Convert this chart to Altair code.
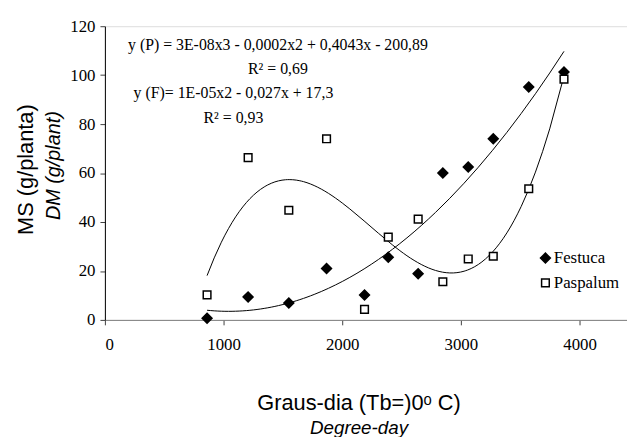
import altair as alt
import pandas as pd

degree_days = [861, 1207, 1550, 1868, 2188, 2388, 2640, 2848, 3062, 3273, 3572, 3869]
festuca = [0.7, 9.4, 6.9, 21.0, 10.2, 25.6, 18.9, 60.0, 62.5, 74.0, 95.2, 101.3]
paspalum = [10.2, 66.3, 44.8, 74.0, 4.3, 33.8, 41.2, 15.6, 24.9, 26.0, 53.6, 98.4]
species = ["Festuca", "Paspalum"]
x_ticks = [0, 1000, 2000, 3000, 4000]
y_ticks = [0, 20, 40, 60, 80, 100, 120]
equations = [
    "y (P) = 3E-08x3 - 0,0002x2 + 0,4043x - 200,89",
    "R\u00b2 = 0,69",
    "y (F)= 1E-05x2 - 0,027x + 17,3",
    "R\u00b2 = 0,93",
]

rows = []
for x, f, p in zip(degree_days, festuca, paspalum):
    rows.append({"x": x, "y": f, "sp": "Festuca"})
    rows.append({"x": x, "y": p, "sp": "Paspalum"})
df = pd.DataFrame(rows)

SERIF = "Liberation Serif"
SANS = "Liberation Sans"

xs = alt.Scale(domain=[0, 4400], nice=False, zero=False)
ys = alt.Scale(domain=[0, 120], nice=False)

base = alt.Chart(df)

legend = alt.Legend(
    title=None, orient="none", legendX=437, legendY=226, padding=0,
    labelFont=SERIF, labelFontSize=17, labelColor="black", labelOffset=0,
    rowPadding=7, symbolStrokeWidth=1.5,
)

points = base.mark_point(opacity=1, strokeWidth=1.5).encode(
    x=alt.X("x:Q", scale=xs, axis=alt.Axis(
        values=x_ticks, title=None, grid=False, domainColor="#808080",
        tickColor="#404040", tickSize=5, labelFont=SERIF, labelFontSize=17,
        labelColor="black", labelPadding=12, format="d")),
    y=alt.Y("y:Q", scale=ys, axis=alt.Axis(
        values=y_ticks, title=None, grid=False, domainColor="black",
        tickColor="#404040", tickSize=5, labelFont=SERIF, labelFontSize=17,
        labelColor="black", labelPadding=5)),
    shape=alt.Shape("sp:N", scale=alt.Scale(domain=species, range=["diamond", "square"]), legend=legend),
    fill=alt.Fill("sp:N", scale=alt.Scale(domain=species, range=["black", "white"]), legend=legend),
    stroke=alt.Stroke("sp:N", scale=alt.Scale(domain=species, range=["black", "black"]), legend=legend),
    size=alt.Size("sp:N", scale=alt.Scale(domain=species, range=[100, 60]), legend=legend),
)

trend_p = base.transform_filter(alt.datum.sp == "Paspalum").transform_regression(
    "x", "y", method="poly", order=3).mark_line(color="black", strokeWidth=1).encode(
    x=alt.X("x:Q", scale=xs), y=alt.Y("y:Q", scale=ys))
trend_f = base.transform_filter(alt.datum.sp == "Festuca").transform_regression(
    "x", "y", method="poly", order=2).mark_line(color="black", strokeWidth=1).encode(
    x=alt.X("x:Q", scale=xs), y=alt.Y("y:Q", scale=ys))

def label(text, x, y, font, size, style="normal", angle=0):
    return alt.Chart(pd.DataFrame({"t": [text]})).mark_text(
        font=font, fontSize=size, fontStyle=style, angle=angle, color="black",
        align="center", baseline="middle").encode(
        text="t:N", x=alt.value(x), y=alt.value(y))

texts = [
    label(equations[0], 175, 19, SERIF, 16),
    label(equations[1], 175, 43, SERIF, 16),
    label(equations[2], 130, 68, SERIF, 16),
    label(equations[3], 130, 93, SERIF, 16),
    label("MS  (g/planta)", -80, 145, SANS, 22, angle=270),
    label("DM (g/plant)", -51, 141, SANS, 20, "italic", angle=270),
    label("Graus-dia  (Tb=)0\u1d52  C)", 257, 381, SANS, 22),
    label("Degree-day", 257, 406, SANS, 19, "italic"),
]

chart = alt.layer(trend_p, trend_f, points, *texts).properties(
    width=528, height=297,
    autosize=alt.AutoSizeParams(type="none"),
    padding={"left": 98, "top": 16, "right": 0, "bottom": 116},
).configure_view(stroke=None).configure(background="white")

chart.save("out.html", embed_options={"renderer": "svg", "actions": False})
